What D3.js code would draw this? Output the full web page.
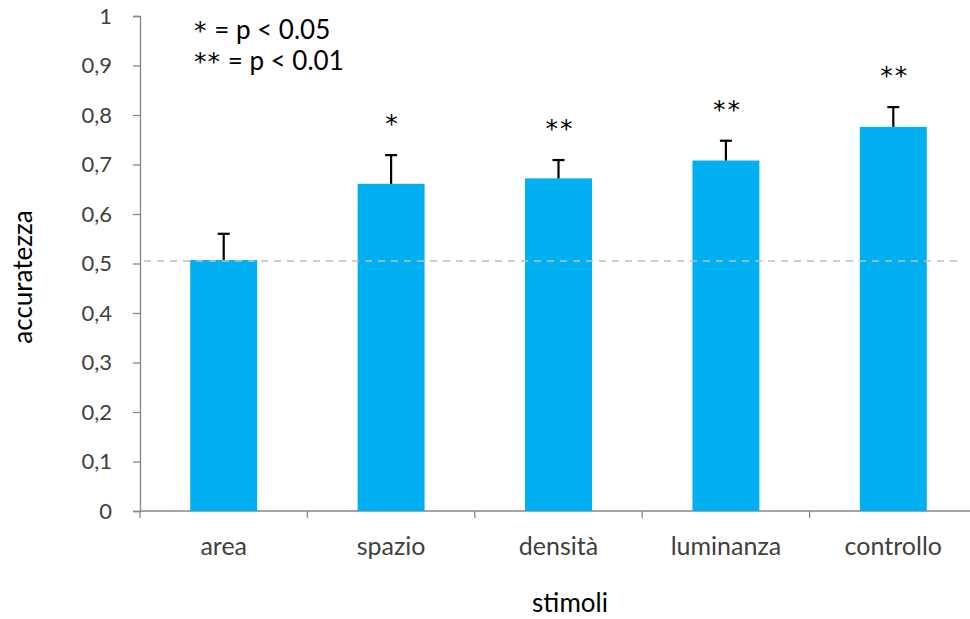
<!DOCTYPE html>
<html><head><meta charset="utf-8">
<script src="https://cdn.jsdelivr.net/npm/d3@7"></script>
<style>body{margin:0;background:#fff}svg{display:block}</style>
</head><body>
<script>
const categories = ["area","spazio","densità","luminanza","controllo"];
const values = [0.507, 0.661, 0.672, 0.708, 0.776];
const errors = [0.053, 0.058, 0.037, 0.040, 0.040];
const stars = ["", "*", "**", "**", "**"];
const yTicks = [0,0.1,0.2,0.3,0.4,0.5,0.6,0.7,0.8,0.9,1];
const chanceLevel = 0.505;
const legendStars = ["*", "**"];
const legendTexts = [" = p < 0.05", " = p < 0.01"];

const W = 970, H = 619;
const font = "Lato, 'Open Sans', sans-serif";
const starFont = "'DejaVu Sans', sans-serif";
const svg = d3.select("body").append("svg").attr("width", W).attr("height", H);

const x = d3.scaleBand().domain(categories).range([140, 977]).padding(0);
const y = d3.scaleLinear().domain([0, 1]).range([511, 16]);
const axisColor = "#868686";

// y axis
const yAxis = svg.append("g").attr("transform", "translate(140,0)")
  .call(d3.axisLeft(y).tickValues(yTicks).tickSize(7).tickPadding(21)
    .tickFormat(d => d3.format(".1~f")(d).replace(".", ",")));
yAxis.select(".domain").attr("stroke", axisColor).attr("stroke-width", 1.3);
yAxis.selectAll(".tick line").attr("stroke", axisColor).attr("stroke-width", 1.3);
yAxis.selectAll(".tick text").attr("font-family", font).attr("font-size", 22).attr("fill", "#404040");

// x axis
const xAxisG = svg.append("g").attr("transform", "translate(0,511)");
xAxisG.append("line").attr("x1", 140).attr("x2", 977).attr("stroke", axisColor).attr("stroke-width", 1.3);
const bounds = categories.map(c => x(c)).concat([x(categories[categories.length-1]) + x.bandwidth()]);
xAxisG.selectAll("line.tk").data(bounds).join("line").attr("class","tk")
  .attr("x1", d => d).attr("x2", d => d).attr("y1", 0).attr("y2", 7)
  .attr("stroke", axisColor).attr("stroke-width", 1.3);
xAxisG.selectAll("text").data(categories).join("text")
  .attr("x", d => x(d) + x.bandwidth()/2).attr("y", 44)
  .attr("text-anchor", "middle").attr("font-family", font).attr("font-size", 25).attr("fill", "#404040")
  .text(d => d);

// bars
const bw = x.bandwidth() * 0.4;
const cx = d => x(d) + x.bandwidth()/2;
svg.selectAll("rect.bar").data(categories).join("rect").attr("class","bar")
  .attr("x", d => cx(d) - bw/2).attr("width", bw)
  .attr("y", (d,i) => y(values[i])).attr("height", (d,i) => y(0) - y(values[i]))
  .attr("fill", "#00B0F0");

// dashed chance line
svg.append("line").attr("x1", 144).attr("x2", 958)
  .attr("y1", y(chanceLevel)).attr("y2", y(chanceLevel))
  .attr("stroke", "#bfbfbf").attr("stroke-width", 1.5).attr("stroke-dasharray", "7,6");

// error bars
const eb = svg.append("g").attr("stroke", "#000").attr("stroke-width", 2.2);
categories.forEach((c, i) => {
  eb.append("line").attr("x1", cx(c)).attr("x2", cx(c))
    .attr("y1", y(values[i])).attr("y2", y(values[i] + errors[i]));
  eb.append("line").attr("x1", cx(c) - 6).attr("x2", cx(c) + 6)
    .attr("y1", y(values[i] + errors[i])).attr("y2", y(values[i] + errors[i]));
});

// significance stars
svg.selectAll("text.star").data(categories).join("text").attr("class","star")
  .attr("x", d => cx(d) + 1.5).attr("y", (d,i) => y(values[i] + errors[i]) - 23)
  .attr("text-anchor", "middle").attr("font-family", starFont).attr("font-size", 25).attr("fill", "#000")
  .attr("letter-spacing", 2)
  .text((d,i) => stars[i]);

// legend
const leg = svg.selectAll("text.leg").data(legendTexts).join("text").attr("class","leg")
  .attr("x", 194).attr("y", (d,i) => 39 + i*31)
  .attr("font-family", font).attr("font-size", 26).attr("fill", "#000");
leg.append("tspan").attr("font-family", starFont).attr("font-size", 25).attr("letter-spacing", 1)
  .text((d,i) => legendStars[i]);
leg.append("tspan").text(d => d);

// axis titles
svg.append("text").attr("x", 570).attr("y", 612).attr("text-anchor", "middle")
  .attr("font-family", font).attr("font-size", 26).attr("fill", "#000").text("stimoli");
svg.append("text").attr("transform", "translate(32,277) rotate(-90)").attr("text-anchor", "middle")
  .attr("font-family", font).attr("font-size", 26).attr("fill", "#000").text("accuratezza");
</script>
</body></html>
